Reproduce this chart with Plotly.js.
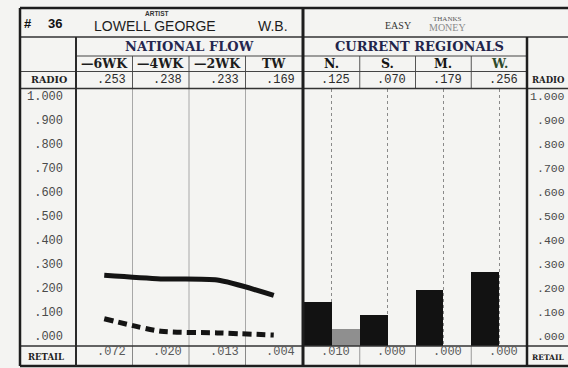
<!DOCTYPE html>
<html>
<head>
<meta charset="utf-8">
<script src="https://cdn.plot.ly/plotly-3.0.1.min.js"></script>
<style>html,body{margin:0;padding:0;background:#f4f4f2;}</style>
</head>
<body>
<div id="chart" style="width:568px;height:368px;"></div>
<script>
// ---------- data ----------
const weeks = ["—6WK", "—4WK", "—2WK", "TW"];
const radioNational = [0.253, 0.238, 0.233, 0.169];
const retailNational = [0.072, 0.020, 0.013, 0.004];
const regions = ["N.", "S.", "M.", "W."];
const radioRegional = [0.125, 0.070, 0.179, 0.256];
const retailRegional = [0.010, 0.000, 0.000, 0.000];
const tickVals = [0, 0.1, 0.2, 0.3, 0.4, 0.5, 0.6, 0.7, 0.8, 0.9, 1.0];
const tickText = [".000", ".100", ".200", ".300", ".400", ".500", ".600", ".700", ".800", ".900", "1.000"];

// ---------- geometry (pixels) ----------
const W = 568, H = 368;
const px = x => x / W;
const py = y => 1 - y / H;
const L = 20, LAB = 76, NAT_R = 302, DBL = 303, REG_L = 304, REG_R = 527;
const TOP = 8, R1 = 37, R2 = 56, R3 = 71.5, R4 = 88.5, R5 = 346, BOT = 366;
// national scale: 0 at 336px, 240px per unit
const natRange = [(336 - R5) / 240, (336 - R4) / 240];
// regional scale
const regRange = [(331 - R5) / 230, (331 - R4) / 230];
const base = regRange[0];
const fmt = v => v.toFixed(3).replace(/^0/, "");

const traces = [
  {type: "scatter", mode: "lines", x: weeks, y: radioNational, xaxis: "x", yaxis: "y",
   line: {color: "#141414", width: 5, shape: "spline", smoothing: 0.7}, hoverinfo: "skip"},
  {type: "scatter", mode: "lines", x: weeks, y: retailNational, xaxis: "x", yaxis: "y",
   line: {color: "#141414", width: 5, shape: "spline", smoothing: 0.7, dash: "9px,5px"}, hoverinfo: "skip"},
  {type: "bar", x: regions, y: radioRegional.map(v => v > 0 ? v - base : null), base: base,
   xaxis: "x2", yaxis: "y2", marker: {color: "#121212", line: {width: 0}}, hoverinfo: "skip"},
  {type: "bar", x: regions, y: retailRegional.map(v => v > 0 ? v - base : null), base: base,
   xaxis: "x2", yaxis: "y2", marker: {color: "#8f8f8f", line: {width: 0}}, hoverinfo: "skip"}
];

// ---------- table lines ----------
const shapes = [];
function hline(y, x0, x1, w, c, layer) {
  shapes.push({type: "line", xref: "paper", yref: "paper", x0: px(x0), x1: px(x1), y0: py(y), y1: py(y),
    line: {color: c, width: w}, layer: layer || "above"});
}
function vline(x, y0, y1, w, c, layer) {
  shapes.push({type: "line", xref: "paper", yref: "paper", x0: px(x), x1: px(x), y0: py(y0), y1: py(y1),
    line: {color: c, width: w}, layer: layer || "above"});
}
const colW = (NAT_R - LAB) / 4;
for (let i = 1; i < 4; i++) {
  const x = LAB + colW * i;
  vline(x, R2, R4, 1, "#555");
  vline(x, R4, R5, 1, "#a8a8a8", "below");
  vline(x, R5, BOT, 1, "#888");
}
const regW = (REG_R - REG_L) / 4;
for (let i = 1; i < 4; i++) {
  const x = REG_L + regW * i;
  vline(x, R2, R4, 1, "#555");
  vline(x, R5, BOT, 1, "#999");
}
hline(R1, L, W, 1.5, "#333");
hline(R2, LAB, REG_R, 1, "#444");
hline(R3, L, REG_R, 1, "#444");
hline(R4, L, W, 1.5, "#333");
hline(R5, L, W, 1.5, "#333");
hline(TOP, L, W, 2.5, "#1e1e1e");
hline(BOT, L, W, 2.5, "#1e1e1e");
vline(L, TOP, BOT, 2.5, "#1e1e1e");
vline(LAB, R1, BOT, 2, "#2a2a2a");
vline(DBL, TOP, BOT, 3, "#1e1e1e");
vline(REG_R, R1, BOT, 2.5, "#1e1e1e");

// ---------- text ----------
const ann = [];
function t(text, x, y, font, extra) {
  ann.push(Object.assign({text: text, x: x, y: y, xref: "paper", yref: "paper", showarrow: false,
    font: font, xanchor: "center", yanchor: "middle", borderpad: 0}, extra || {}));
}
const serifB = (s, c) => ({family: "DejaVu Serif", size: s, weight: "bold", color: c || "#1c1c1c"});
const sans = (s, c, w) => ({family: "Liberation Sans, Arial", size: s, color: c || "#1c1c1c", weight: w || "normal"});
const mono = (s, c) => ({family: "Liberation Mono, Courier New", size: s, color: c || "#2b2b2b"});

t("#", px(28), py(23), sans(13, "#111", "bold"));
t("36", px(55), py(23), sans(13, "#111", "bold"));
t("ARTIST", px(157), py(13.5), sans(6.5, "#333", "bold"));
t("LOWELL GEORGE", px(155), py(25.5), sans(14, "#1c1c1c"));
t("W.B.", px(273), py(25.5), sans(14, "#1c1c1c"));
t("EASY", px(398), py(25.5), {family: "Liberation Serif", size: 10, color: "#333"});
t("MONEY", px(447), py(27), {family: "Liberation Serif", size: 10, color: "#8a8a8a"});
t("THANKS", px(447), py(18.5), {family: "Liberation Serif", size: 7, color: "#555"});
t("NATIONAL FLOW", px((LAB + NAT_R) / 2), py(46.5), serifB(13, "#24264f"));
t("CURRENT REGIONALS", px((REG_L + REG_R) / 2 + 4), py(46.5), serifB(13, "#22244a"));
t("RADIO", px(49), py(80), serifB(9.5, "#222"));
t("RETAIL", px(46), py(357), serifB(8.5, "#222"));
t("RADIO", px(531), py(80), serifB(8.5, "#222"), {xanchor: "left"});
t("RETAIL", px(531), py(357), serifB(7.5, "#222"), {xanchor: "left"});

const regHeadColor = ["#141414", "#141414", "#141414", "#2e4a2c"];
weeks.forEach((w, i) => {
  t(w, i, py(63.5), serifB(12.5, "#1c1c1c"), {xref: "x"});
  t(fmt(radioNational[i]), i, py(80), mono(12, "#2b2b2b"), {xref: "x", xshift: 7});
  t(fmt(retailNational[i]), i, py(351.5), mono(12, "#5a5a5a"), {xref: "x", xshift: 7});
});
regions.forEach((r, i) => {
  t(r, i, py(63.5), serifB(12.5, regHeadColor[i]), {xref: "x2"});
  t(fmt(radioRegional[i]), i, py(80), mono(12, "#2b2b2b"), {xref: "x2", xshift: 4});
  t(fmt(retailRegional[i]), i, py(351.5), mono(12, "#5a5a5a"), {xref: "x2", xshift: 4});
});
tickVals.forEach((v, i) => {
  t(tickText[i], px(566), v, mono(11.5, "#4a4a4a"), {yref: "y", xanchor: "right"});
});

const layout = {
  width: W, height: H,
  margin: {l: 0, r: 0, t: 0, b: 0, pad: 0},
  paper_bgcolor: "#f4f4f2", plot_bgcolor: "rgba(0,0,0,0)",
  showlegend: false,
  barmode: "group", bargap: 0, bargroupgap: 0,
  xaxis: {domain: [px(LAB), px(NAT_R)], anchor: "y", type: "category", categoryarray: weeks,
    range: [-0.5, 3.5], showticklabels: false, showgrid: false, zeroline: false, showline: false, ticks: "", fixedrange: true},
  yaxis: {domain: [py(R5), py(R4)], anchor: "x", range: natRange, tickvals: tickVals, ticktext: tickText,
    ticks: "", showgrid: false, zeroline: false, showline: false, ticklabelstandoff: 12,
    tickfont: mono(12, "#4a4a4a"), fixedrange: true},
  xaxis2: {domain: [px(REG_L), px(REG_R)], anchor: "y2", type: "category", categoryarray: regions,
    range: [-0.5, 3.5], showticklabels: false, showgrid: true, griddash: "dot", gridcolor: "#8a8a8a",
    gridwidth: 1, zeroline: false, showline: false, ticks: "", fixedrange: true},
  yaxis2: {domain: [py(R5), py(R4)], anchor: "x2", range: regRange, showticklabels: false,
    showgrid: false, zeroline: false, showline: false, ticks: "", fixedrange: true},
  shapes: shapes,
  annotations: ann
};

Plotly.newPlot("chart", traces, layout, {displayModeBar: false, staticPlot: true});
</script>
</body>
</html>
